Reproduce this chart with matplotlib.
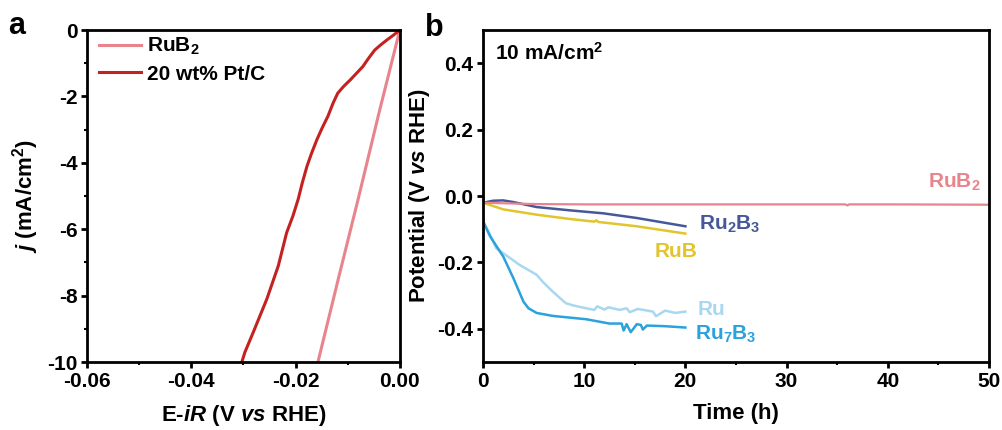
import matplotlib
matplotlib.use("Agg")
import matplotlib.pyplot as plt
from matplotlib.ticker import MultipleLocator

# ---- panel a: polarization curves ----
ptc_e = [0.0, -0.0012, -0.0025, -0.0037, -0.0048, -0.0060, -0.0071, -0.0083, -0.0095,
         -0.0108, -0.0119, -0.0128, -0.0138, -0.0149, -0.0159, -0.0169, -0.0178,
         -0.0187, -0.0195, -0.0205, -0.0217, -0.0225, -0.0233, -0.0244, -0.0255,
         -0.0268, -0.0281, -0.0297, -0.0303]
ptc_j = [0.0, -0.15, -0.3, -0.45, -0.6, -0.85, -1.1, -1.3, -1.5,
         -1.7, -1.9, -2.2, -2.6, -2.95, -3.3, -3.7, -4.1,
         -4.6, -5.1, -5.6, -6.1, -6.6, -7.1, -7.6, -8.1,
         -8.6, -9.1, -9.7, -10.0]
rub2_e = [0.0, -0.0040, -0.0080, -0.0118, -0.0157]
rub2_j = [0.0, -2.5, -5.1, -7.5, -10.0]

# ---- panel b: chronopotentiometry at 10 mA/cm2 ----
t_rub2 = [0.0, 5, 10, 20, 30, 35.8, 36.0, 36.2, 40, 50]
v_rub2 = [-0.020, -0.024, -0.025, -0.025, -0.025, -0.025, -0.028, -0.025, -0.025, -0.026]

t_ru2b3 = [0.0, 0.02, 1.0, 2.0, 3.0, 5.3, 8.6, 11.9, 15.2, 20.0]
v_ru2b3 = [0.55, -0.020, -0.014, -0.013, -0.018, -0.033, -0.043, -0.052, -0.066, -0.091]

t_rub = [0.0, 0.02, 2.0, 5.3, 8.6, 11.0, 11.2, 11.4, 15.2, 20.0]
v_rub = [0.35, -0.020, -0.040, -0.056, -0.069, -0.077, -0.073, -0.078, -0.091, -0.113]

t_ru = [0.0, 0.02, 0.7, 1.3, 2.0, 3.6, 5.3, 5.9, 6.9, 8.2, 9.0, 10.2, 11.0, 11.3,
        12.0, 12.4, 13.5, 14.2, 14.5, 15.3, 16.8, 17.1, 18.0, 19.0, 20.0]
v_ru = [0.20, -0.076, -0.116, -0.157, -0.172, -0.207, -0.237, -0.258, -0.288, -0.323,
        -0.330, -0.338, -0.343, -0.332, -0.342, -0.335, -0.343, -0.338, -0.350, -0.340,
        -0.348, -0.362, -0.345, -0.352, -0.348]

t_ru7b3 = [0.0, 0.7, 2.0, 3.0, 4.0, 4.5, 5.3, 6.9, 10.2, 12.5, 13.7, 13.9, 14.2,
           14.6, 15.2, 15.6, 15.8, 16.2, 18.0, 20.0]
v_ru7b3 = [-0.076, -0.121, -0.182, -0.247, -0.318, -0.338, -0.352, -0.361, -0.371,
           -0.384, -0.384, -0.405, -0.386, -0.410, -0.386, -0.388, -0.402, -0.390,
           -0.392, -0.396]

c_rub2 = "#e8848c"
c_ptc = "#c42220"
c_ru2b3 = "#46589a"
c_rub = "#e2c42c"
c_ru = "#a8d8f0"
c_ru7b3 = "#2aa2dc"

plt.rcParams["font.family"] = "Liberation Sans"
plt.rcParams["font.weight"] = "bold"
plt.rcParams["axes.labelweight"] = "bold"
plt.rcParams["axes.unicode_minus"] = False
plt.rcParams["mathtext.fontset"] = "custom"
plt.rcParams["mathtext.default"] = "bf"
plt.rcParams["mathtext.bf"] = "Liberation Sans:bold"
plt.rcParams["mathtext.rm"] = "Liberation Sans:bold"
plt.rcParams["mathtext.it"] = "Liberation Sans:italic:bold"

fig = plt.figure(figsize=(10.02, 4.30), dpi=100)
ax1 = fig.add_axes([0.0868, 0.158, 0.3122, 0.772])
ax2 = fig.add_axes([0.482, 0.158, 0.505, 0.772])

# panel a
ax1.plot(rub2_e, rub2_j, color=c_rub2, lw=2.2, label="RuB$_{2}$")
ax1.plot(ptc_e, ptc_j, color=c_ptc, lw=2.2, label="20 wt% Pt/C")
ax1.set_xlim(-0.06, 0.0)
ax1.set_ylim(-10, 0)
ax1.xaxis.set_major_locator(MultipleLocator(0.02))
ax1.xaxis.set_minor_locator(MultipleLocator(0.01))
ax1.yaxis.set_major_locator(MultipleLocator(2))
ax1.yaxis.set_minor_locator(MultipleLocator(1))
ax1.xaxis.set_major_formatter(plt.FuncFormatter(lambda v, p: f"{v:.2f}"))
ax1.yaxis.set_major_formatter(plt.FuncFormatter(lambda v, p: f"{v:.0f}"))
ax1.set_xlabel(r"E-$\mathit{iR}$ (V $\mathit{vs}$ RHE)", fontsize=16, labelpad=9)
ax1.set_ylabel(r"$\mathit{j}$ (mA/cm$^{2}$)", fontsize=16, labelpad=4)
ax1.legend(loc="upper left", frameon=False, fontsize=15, handlelength=2.0,
           handletextpad=0.3, borderaxespad=0.2, labelspacing=0.35,
           bbox_to_anchor=(0.0, 1.02))
fig.text(0.008, 0.94, "a", fontsize=22, fontweight="bold", va="center")

# panel b
ax2.plot(t_ru2b3, v_ru2b3, color=c_ru2b3, lw=1.8)
ax2.plot(t_rub, v_rub, color=c_rub, lw=1.8)
ax2.plot(t_ru, v_ru, color=c_ru, lw=1.8)
ax2.plot(t_ru7b3, v_ru7b3, color=c_ru7b3, lw=1.8)
ax2.plot(t_rub2, v_rub2, color=c_rub2, lw=1.6)
ax2.set_xlim(0, 50)
ax2.set_ylim(-0.5, 0.5)
ax2.xaxis.set_major_locator(MultipleLocator(10))
ax2.xaxis.set_minor_locator(MultipleLocator(5))
ax2.yaxis.set_major_locator(MultipleLocator(0.2))
ax2.yaxis.set_major_formatter(plt.FuncFormatter(lambda v, p: f"{v:.1f}"))
ax2.set_xlabel("Time (h)", fontsize=16, labelpad=9)
ax2.set_ylabel(r"Potential (V $\mathit{vs}$ RHE)", fontsize=16, labelpad=4)

ax2.text(1.2, 0.43, "10 mA/cm$^{2}$", fontsize=15, va="center")
ax2.text(49.2, 0.04, "RuB$_{2}$", fontsize=15, color=c_rub2, ha="right", va="center")
ax2.text(21.3, -0.084, "Ru$_{2}$B$_{3}$", fontsize=15, color=c_ru2b3, va="center")
ax2.text(17.0, -0.167, "RuB", fontsize=15, color=c_rub, va="center")
ax2.text(21.2, -0.343, "Ru", fontsize=15, color=c_ru, va="center")
ax2.text(21.0, -0.418, "Ru$_{7}$B$_{3}$", fontsize=15, color=c_ru7b3, va="center")
fig.text(0.424, 0.935, "b", fontsize=22, fontweight="bold", va="center")

for ax in (ax1, ax2):
    for s in ax.spines.values():
        s.set_linewidth(2.0)
    ax.tick_params(which="major", direction="out", length=4, width=2.0,
                   labelsize=15, pad=3)
    ax.tick_params(which="minor", direction="out", length=2.5, width=1.5)
    for lab in ax.get_xticklabels() + ax.get_yticklabels():
        lab.set_fontweight("bold")

fig.savefig("out.png", dpi=100)
